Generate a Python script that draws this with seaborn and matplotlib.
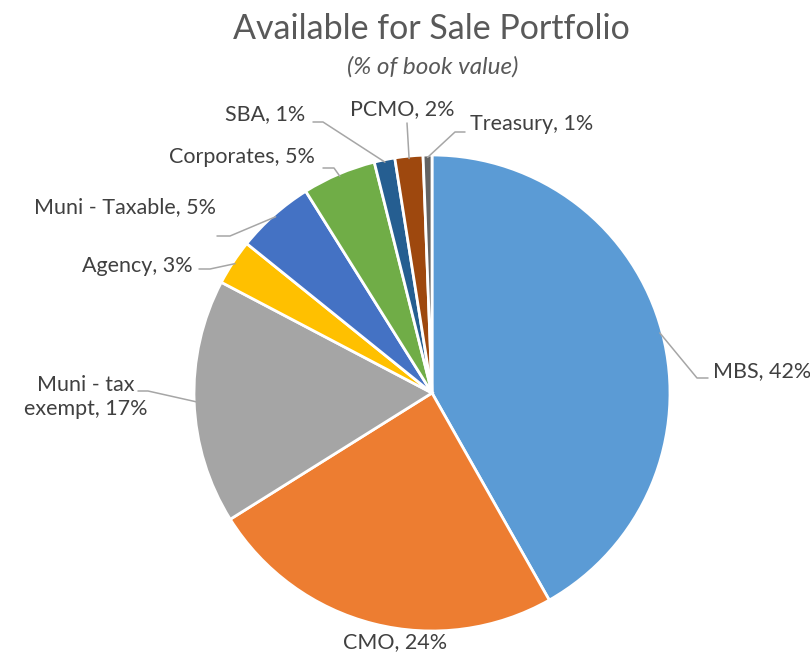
import matplotlib
matplotlib.use("Agg")
import matplotlib.pyplot as plt
import seaborn as sns
import numpy as np

# ---- data ----
categories = ["MBS", "CMO", "Muni - tax\nexempt", "Agency", "Muni - Taxable",
              "Corporates", "SBA", "PCMO", "Treasury"]
shares = [41.8, 24.3, 16.6, 3.1, 5.3, 5.0, 1.4, 1.9, 0.6]
colors = ["#5B9BD5", "#ED7D31", "#A5A5A5", "#FFC000", "#4472C4",
          "#70AD47", "#255E91", "#9E480E", "#636363"]

# label layout in picture pixels: text anchor, alignment, elbow points of leader
label_layout = [
    dict(xy=(713, 371), ha="left", elbow=[(708, 378), (697, 378)]),
    dict(xy=(395, 642), ha="center", elbow=None),
    dict(xy=(86, 397), ha="center", elbow=[(138, 391), (148, 391)]),
    dict(xy=(193, 266), ha="right", elbow=[(199, 269), (210, 269)]),
    dict(xy=(216, 207), ha="right", elbow=[(217, 236), (230, 236)]),
    dict(xy=(315, 157), ha="right", elbow=[(323, 168), (334, 168)]),
    dict(xy=(305, 114), ha="right", elbow=[(313, 122), (323, 122)]),
    dict(xy=(402, 109), ha="center", elbow=[(407, 123)]),
    dict(xy=(470, 124), ha="left", elbow=[(465, 132), (455, 132)]),
]

sns.set_theme(style="white")
plt.rcParams["font.family"] = ["Lato", "DejaVu Sans"]

W, H = 810, 657
cx, cy, R = 432, 393, 238


def to_data(x, y):
    return (x - cx) / R, (cy - y) / R


fig = plt.figure(figsize=(W / 100, H / 100), dpi=100)
ax = fig.add_axes([(cx - R) / W, (H - cy - R) / H, 2 * R / W, 2 * R / H])

wedges, _ = ax.pie(shares, colors=colors, startangle=90, counterclock=False,
                   radius=1, wedgeprops=dict(edgecolor="white", linewidth=2))
# pie() resets the limits, so set them afterwards
ax.set_xlim(-1, 1)
ax.set_ylim(-1, 1)
ax.axis("off")

total = sum(shares)
for w, cat, val, lay in zip(wedges, categories, shares, label_layout):
    label = f"{cat}, {round(val / total * 100)}%"
    tx, ty = to_data(*lay["xy"])
    ax.text(tx, ty, label, ha=lay["ha"], va="center", multialignment="center",
            fontsize=15.5, color="#404040", clip_on=False, linespacing=1.25)
    if lay["elbow"]:
        mid = np.deg2rad((w.theta1 + w.theta2) / 2)
        pts = [to_data(*p) for p in lay["elbow"]] + [(0.99 * np.cos(mid), 0.99 * np.sin(mid))]
        ax.plot([p[0] for p in pts], [p[1] for p in pts], color="#A6A6A6",
                lw=1.1, clip_on=False)

fig.text(431 / W, 1 - 29 / H, "Available for Sale Portfolio", ha="center",
         va="center", fontsize=24.5, color="#595959")
fig.text(433 / W, 1 - 67 / H, "(% of book value)", ha="center", va="center",
         fontsize=17.5, style="italic", color="#595959")

fig.savefig("out.png", dpi=100, facecolor="white")
